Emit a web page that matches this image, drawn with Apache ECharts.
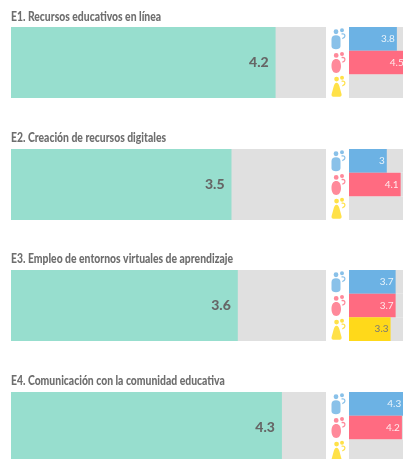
<!DOCTYPE html>
<html><head><meta charset="utf-8">
<style>html,body{margin:0;padding:0;background:#fff;overflow:hidden}#c{width:403px;height:459px;filter:blur(0.55px)}</style>
<script src="https://cdn.jsdelivr.net/npm/echarts@6/dist/echarts.min.js"></script></head>
<body><div id="c"></div>
<script>
const titles = ['E1. Recursos educativos en línea','E2. Creación de recursos digitales','E3. Empleo de entornos virtuales de aprendizaje','E4. Comunicación con la comunidad educativa'];
const overall = [4.2, 3.5, 3.6, 4.3];
const groups = ['Hombres','Mujeres','Otros'];
const men = [3.8, 3, 3.7, 4.3];
const women = [4.5, 4.1, 3.7, 4.2];
const others = [null, null, 3.3, null];
const axisMax = 5;
const panelTops = [27, 149, 270, 392];
const titleTops = [10, 131, 252, 374];
const panelH = 71;

const TEAL='#97dece', GREY='#e0e0e0', COL=['#6cb2e4','#ff6b81','#ffd91a'];
const FONT='Lato,"Noto Sans",sans-serif';
const kid='M10.5 0a2 2 0 1 0 .01 0ZM10 5C12.6 4.4 14 5.6 14 7.4C14 9.2 12.6 10.2 11 10.8L10.6 9.6C11.9 9.1 12.8 8.4 12.8 7.4C12.8 6.4 11.7 5.9 10.2 6.3Z';
const icons=[
 'path://M4.5 1a2.4 2.4 0 1 0 .01 0ZM4.5 7C7.5 7 9 8.4 9 11V18C9 20 7 21 4.5 21C2 21 0 20 0 18V11C0 8.4 1.5 7 4.5 7Z'+kid,
 'path://M4.7 1a2.4 2.4 0 1 0 .01 0ZM4.7 7C7.6 7 9.5 9.6 9.5 14C9.5 18.2 7.6 21 4.7 21C1.8 21 0 18.2 0 14C0 9.6 1.8 7 4.7 7Z'+kid,
 'path://M5 1a2.4 2.4 0 1 0 .01 0ZM5 7C6.5 7 7.2 8.4 7.8 10.4L10 18.4C10.4 20 9.6 21 8.2 21H1.8C.4 21 -.4 20 0 18.4L2.2 10.4C2.8 8.4 3.5 7 5 7Z'+kid
];
const grids=[],xA=[],yA=[],series=[],titleEls=[];
panelTops.forEach((top,i)=>{
  titleEls.push({type:'text',x:11,y:titleTops[i],scaleX:0.83,silent:true,style:{text:titles[i],font:'900 12.5px '+FONT,fill:'#6e6e6e'}});
  // main bar
  let g=grids.length;
  grids.push({left:11,top,width:315,height:panelH,outerBoundsMode:'none'});
  xA.push({type:'value',gridIndex:g,min:0,max:axisMax,show:false});
  yA.push({type:'category',gridIndex:g,data:[titles[i]],show:false});
  series.push({type:'bar',xAxisIndex:g,yAxisIndex:g,animation:false,silent:true,barWidth:'100%',
    showBackground:true,backgroundStyle:{color:GREY,opacity:1},itemStyle:{color:TEAL,borderRadius:0},data:[overall[i]],
    label:{show:true,position:'insideRight',distance:7,formatter:'{c}',fontFamily:FONT,fontWeight:900,fontSize:14,color:'#666'}});
  // icons
  g=grids.length;
  grids.push({left:331,top,width:15,height:panelH,outerBoundsMode:'none'});
  xA.push({type:'value',gridIndex:g,min:0,max:1,show:false});
  yA.push({type:'category',gridIndex:g,data:groups,inverse:true,show:false});
  groups.forEach((name,k)=>series.push({type:'scatter',xAxisIndex:g,yAxisIndex:g,animation:false,silent:true,symbol:icons[k],symbolSize:[14,21],itemStyle:{color:COL[k]},data:[[0.5,name]]}));
  // small bars
  g=grids.length;
  grids.push({left:349,top,width:63,height:panelH,outerBoundsMode:'none'});
  xA.push({type:'value',gridIndex:g,min:0,max:axisMax,show:false});
  yA.push({type:'category',gridIndex:g,data:groups,inverse:true,show:false});
  const vals=[men[i],women[i],others[i]];
  series.push({type:'bar',xAxisIndex:g,yAxisIndex:g,animation:false,silent:true,barWidth:'100%',
    showBackground:true,backgroundStyle:{color:GREY,opacity:1},
    data:vals.map((v,k)=>({value:v,itemStyle:{color:COL[k],borderRadius:0},label:{color:k===2?'#777':'rgba(255,255,255,0.85)'}})),
    label:{show:true,position:'insideRight',distance:2,formatter:p=>p.value==null?'':String(p.value),fontFamily:FONT,fontSize:10}});
});
const chart=echarts.init(document.getElementById('c'),null,{renderer:'canvas'});
chart.setOption({animation:false,backgroundColor:'#fff',graphic:{elements:titleEls},grid:grids,xAxis:xA,yAxis:yA,series,tooltip:{show:false}});
</script></body></html>
